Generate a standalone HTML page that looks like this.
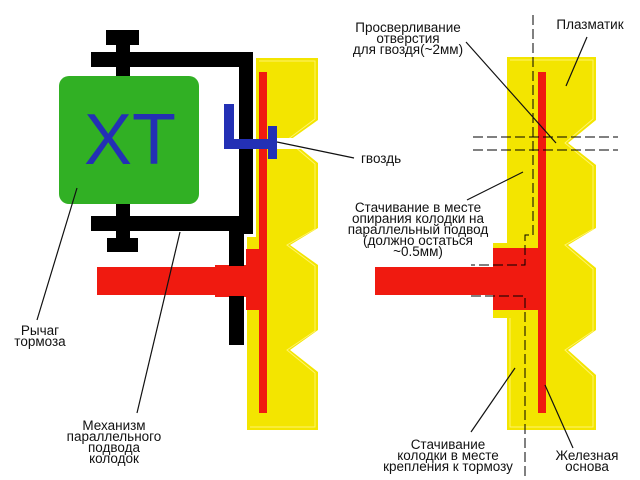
<!DOCTYPE html>
<html><head><meta charset="utf-8"><style>
html,body{margin:0;padding:0;background:#fff;}
svg{display:block;}
text{font-family:"Liberation Sans",sans-serif;font-size:13.5px;fill:#111;}
</style></head><body>
<svg width="640" height="480" viewBox="0 0 640 480" xmlns="http://www.w3.org/2000/svg">
<rect width="640" height="480" fill="#fff"/>
<!-- LEFT -->
<polygon points="256,58 318,58 318,120 290,140 318,163 318,228 290,245 318,265 318,330 290,350 318,372 318,430 247,430 247,237 256,237" fill="#f3e500"/>
<polyline points="259,61 315,61 315,119 287,140 315,164 315,229 287,245 315,266 315,331 287,350 315,373 315,427 250,427" fill="none" stroke="#fff36a" stroke-width="1"/>
<rect x="268" y="138" width="52" height="11" fill="#fff"/>
<rect x="259" y="72" width="8" height="341" fill="#f01a10"/>
<rect x="246" y="249" width="21" height="61" fill="#f01a10"/>
<rect x="97" y="267" width="120" height="28" fill="#f01a10"/>
<rect x="215" y="265" width="32" height="32" fill="#f01a10"/>
<!-- black frame -->
<rect x="91" y="52" width="162" height="15" fill="#000"/>
<rect x="239" y="52" width="14" height="182" fill="#000"/>
<rect x="91" y="216" width="162" height="15" fill="#000"/>
<rect x="229" y="216" width="15" height="50" fill="#000"/>
<rect x="229" y="296" width="15" height="49" fill="#000"/>
<rect x="106" y="30" width="33" height="15" fill="#000"/>
<rect x="116" y="44" width="14" height="34" fill="#000"/>
<rect x="116" y="202" width="14" height="38" fill="#000"/>
<rect x="107" y="238" width="31" height="14" fill="#000"/>
<!-- green box -->
<rect x="59" y="76" width="140" height="128" rx="10" fill="#31b024"/>
<text x="130" y="164" text-anchor="middle" style="font-size:72px;fill:#2330b5">XT</text>
<!-- nail -->
<rect x="224" y="104" width="10" height="45" fill="#2330b5"/>
<rect x="224" y="139" width="50" height="10" fill="#2330b5"/>
<rect x="268" y="126" width="9" height="33" fill="#2330b5"/>
<!-- left leaders -->
<g stroke="#111" stroke-width="1.2">
<line x1="277" y1="142" x2="354" y2="158"/>
<line x1="77" y1="188" x2="37" y2="320"/>
<line x1="180" y1="232" x2="137" y2="413"/>
</g>
<text x="361" y="163">гвоздь</text>
<text x="40" y="335" text-anchor="middle">Рычаг</text>
<text x="40" y="346" text-anchor="middle">тормоза</text>
<text x="114" y="430" text-anchor="middle">Механизм</text>
<text x="114" y="441" text-anchor="middle">параллельного</text>
<text x="114" y="452" text-anchor="middle">подвода</text>
<text x="114" y="463" text-anchor="middle">колодок</text>
<!-- RIGHT -->
<polygon points="507,57 596,57 596,120 568,143 596,165 596,228 568,245 596,268 596,330 568,350 596,375 596,430 507,430 507,318 493,318 493,243 507,243" fill="#f3e500"/>
<polyline points="510,60 593,60 593,119 565,143 593,166 593,229 565,245 593,269 593,331 565,350 593,376 593,427 510,427 510,318" fill="none" stroke="#fff36a" stroke-width="1"/>
<rect x="538" y="72" width="8" height="341" fill="#f01a10"/>
<rect x="493" y="248" width="53" height="62" fill="#f01a10"/>
<rect x="375" y="267" width="120" height="28" fill="#f01a10"/>
<g stroke="#000" stroke-width="1" stroke-dasharray="10,4" fill="none">
<polyline points="533,15 533,235 525,235 525,265 471,265"/>
<polyline points="471,296 525,296 525,480"/>
<line x1="473" y1="137" x2="618" y2="137"/>
<line x1="473" y1="150" x2="618" y2="150"/>
</g>
<g stroke="#111" stroke-width="1.2">
<line x1="466" y1="42" x2="556" y2="143"/>
<line x1="587" y1="37" x2="566" y2="86"/>
<line x1="467" y1="200" x2="523" y2="172"/>
<line x1="471" y1="432" x2="515" y2="368"/>
<line x1="573" y1="448" x2="545" y2="385"/>
</g>
<text x="408" y="32" text-anchor="middle">Просверливание</text>
<text x="408" y="43" text-anchor="middle">отверстия</text>
<text x="408" y="54" text-anchor="middle">для гвоздя(~2мм)</text>
<text x="590" y="29" text-anchor="middle">Плазматик</text>
<text x="418" y="212" text-anchor="middle">Стачивание в месте</text>
<text x="418" y="223" text-anchor="middle">опирания колодки на</text>
<text x="418" y="234" text-anchor="middle">параллельный подвод</text>
<text x="418" y="245" text-anchor="middle">(должно остаться</text>
<text x="418" y="256" text-anchor="middle">~0.5мм)</text>
<text x="448" y="449" text-anchor="middle">Стачивание</text>
<text x="448" y="460" text-anchor="middle">колодки в месте</text>
<text x="448" y="471" text-anchor="middle">крепления к тормозу</text>
<text x="587" y="460" text-anchor="middle">Железная</text>
<text x="587" y="471" text-anchor="middle">основа</text>
</svg>
</body></html>
